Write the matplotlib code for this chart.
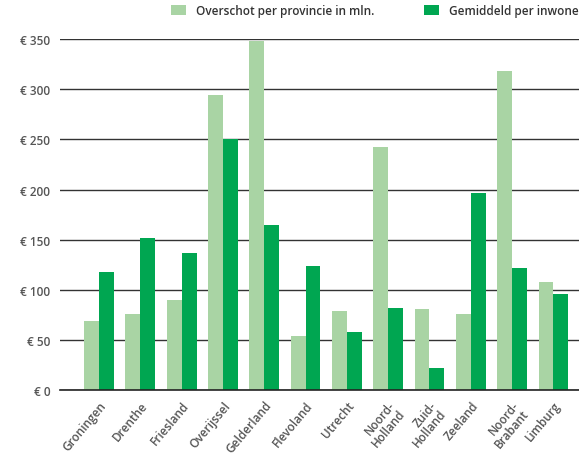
import matplotlib.pyplot as plt
import numpy as np

provincies = ['Groningen', 'Drenthe', 'Friesland', 'Overijssel', 'Gelderland',
              'Flevoland', 'Utrecht', 'Noord-\nHolland', 'Zuid-\nHolland',
              'Zeeland', 'Noord-\nBrabant', 'Limburg']
overschot = [69, 76, 90, 294, 348, 54, 79, 242, 81, 76, 318, 108]
per_inwoner = [118, 152, 137, 250, 165, 124, 58, 82, 22, 197, 122, 96]
yticks = [0, 50, 100, 150, 200, 250, 300, 350]

light = '#a9d4a4'
dark = '#00a651'
txt = '#555555'

plt.rcParams['font.family'] = ['Open Sans', 'DejaVu Sans']

fig = plt.figure(figsize=(5.79, 4.56), dpi=100)
ax = fig.add_axes([0.104, 0.1425, 0.896, 0.7695])

x = np.arange(len(provincies))
w = 0.36
ax.bar(x - w / 2, overschot, w, color=light, label='Overschot per provincie in mln.', zorder=3)
ax.bar(x + w / 2, per_inwoner, w, color=dark, label='Gemiddeld per inwoner', zorder=3)

ax.set_xlim(-0.94, 11.62)
ax.set_ylim(0, 350)
ax.set_yticks(yticks)
ax.set_yticklabels(['€ %d' % v for v in yticks], color=txt, fontsize=8.5, fontweight='semibold')
ax.yaxis.grid(True, color='#333333', linewidth=1.0, zorder=0)
ax.tick_params(axis='y', length=0, pad=7)

ax.set_xticks(x)
ax.set_xticklabels(provincies, rotation=50, ha='right', rotation_mode='anchor',
                   color=txt, fontsize=8.5, fontweight='semibold', linespacing=0.95)
ax.tick_params(axis='x', length=0, pad=6)

for s in ['top', 'right', 'left']:
    ax.spines[s].set_visible(False)
ax.spines['bottom'].set_color('#222222')
ax.spines['bottom'].set_linewidth(1.2)
ax.spines['bottom'].set_zorder(4)

fig.legend(loc='upper left', bbox_to_anchor=(0.277, 1.012), ncol=2, frameon=False,
           handlelength=1.3, handleheight=1.0, columnspacing=4.2,
           labelcolor='#333333', prop={'weight': 'semibold', 'size': 8.5})

fig.savefig('out.png', dpi=100)
